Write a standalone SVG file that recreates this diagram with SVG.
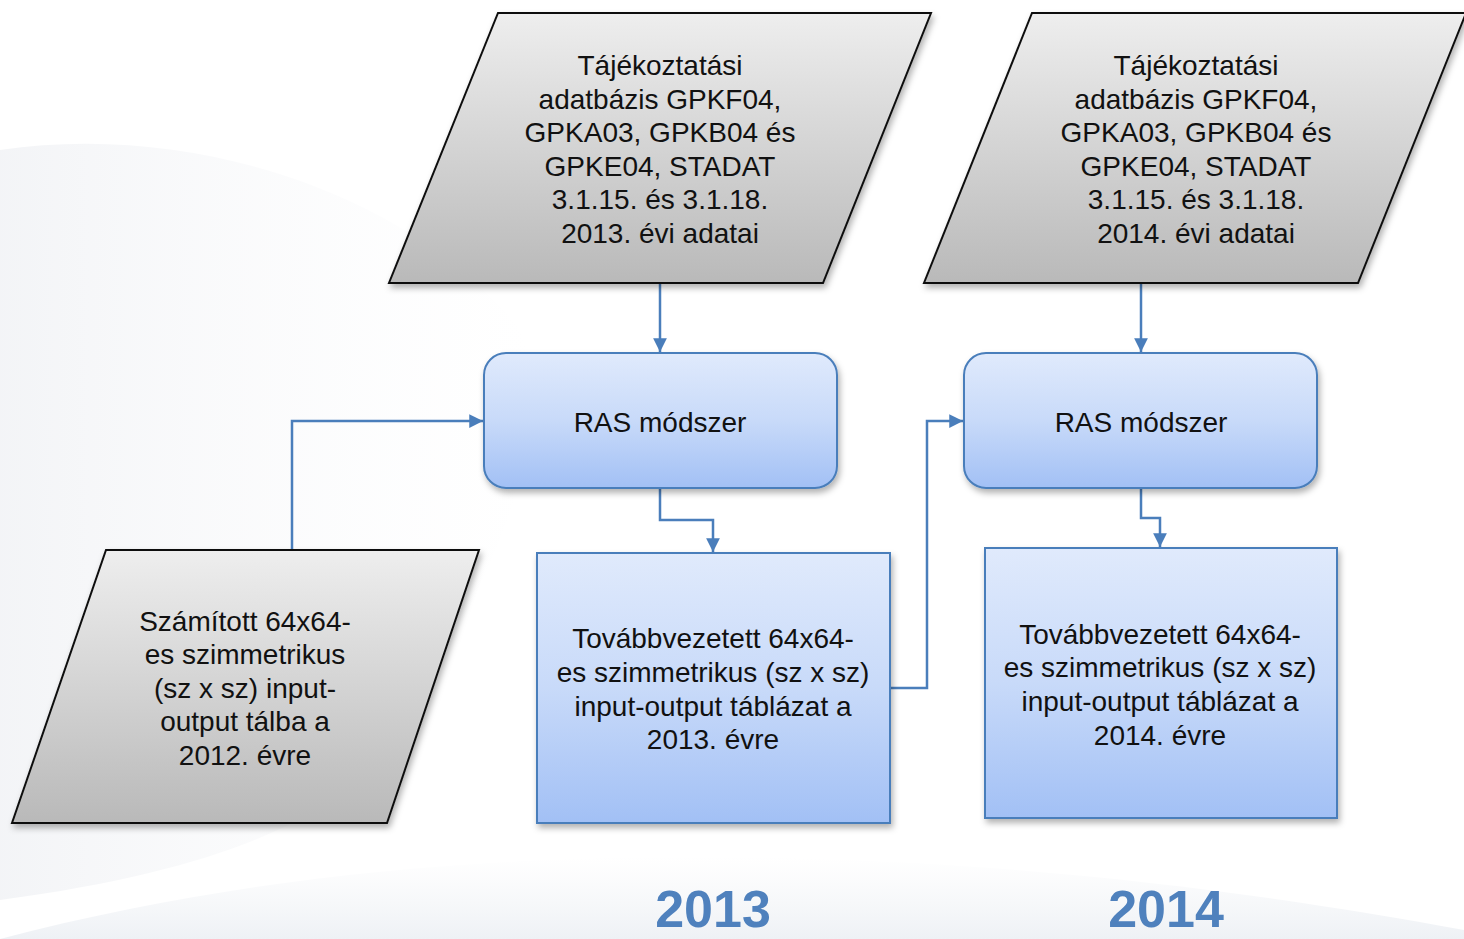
<svg xmlns="http://www.w3.org/2000/svg" width="1464" height="939" viewBox="0 0 1464 939">
<defs>
<linearGradient id="gray" x1="0" y1="0" x2="0" y2="1"><stop offset="0" stop-color="#eeeeee"/><stop offset="1" stop-color="#b9b9b9"/></linearGradient>
<linearGradient id="blue" x1="0" y1="0" x2="0" y2="1"><stop offset="0" stop-color="#e0eafc"/><stop offset="0.5" stop-color="#c8daf9"/><stop offset="1" stop-color="#a2c0f5"/></linearGradient>
<linearGradient id="bg1" x1="0" y1="0" x2="1" y2="0"><stop offset="0" stop-color="#eceef2" stop-opacity="0.9"/><stop offset="1" stop-color="#f7f8fa" stop-opacity="0"/></linearGradient>
<linearGradient id="bg2" x1="0" y1="0" x2="0" y2="1"><stop offset="0" stop-color="#f2f4f7" stop-opacity="0"/><stop offset="1" stop-color="#eef1f5" stop-opacity="1"/></linearGradient>
<filter id="sh" x="-10%" y="-10%" width="120%" height="125%"><feDropShadow dx="2" dy="4" stdDeviation="3" flood-color="#000" flood-opacity="0.3"/></filter>
<marker id="arr" viewBox="0 0 10 10" refX="10" refY="5" markerWidth="5.5" markerHeight="5.5" orient="auto" markerUnits="strokeWidth"><path d="M0,0 L10,5 L0,10 Z" fill="#4a7ebb"/></marker>
<style>
.t{font-family:"Liberation Sans",Arial,sans-serif;font-size:28px;fill:#111;text-anchor:middle}
.par{fill:url(#gray);stroke:#111;stroke-width:2;filter:url(#sh)}
.bx{fill:url(#blue);stroke:#4a7ebb;stroke-width:2;filter:url(#sh)}
.c{fill:none;stroke:#4a7ebb;stroke-width:2.5;marker-end:url(#arr)}
.yr{font-family:"Liberation Sans",Arial,sans-serif;font-weight:bold;font-size:52px;fill:#4f81bd;text-anchor:middle}
</style>
</defs>
<rect width="1464" height="939" fill="#ffffff"/>
<g id="background">
<path d="M0,150 C200,120 420,200 520,330 C560,420 500,560 420,700 C380,780 300,860 0,900 Z" fill="url(#bg1)" opacity="0.7"/>
<path d="M0,939 C300,860 600,850 850,860 C1100,870 1300,900 1464,930 L1464,939 Z" fill="url(#bg2)"/>
</g>
<g id="connectors">
<path class="c" d="M660,284 V352"/>
<path class="c" d="M1141,284 V352"/>
<path class="c" d="M292,550 V421 H483"/>
<path class="c" d="M660,489 V520 H713 V552"/>
<path class="c" d="M1141,489 V518 H1160 V547"/>
<path class="c" d="M891,688 H927 V421 H963"/>
</g>
<g id="src2013">
<path class="par" d="M498,13 H931 L823,283 H389 Z"/>
<text class="t" x="660" y="75">Tájékoztatási</text>
<text class="t" x="660" y="109">adatbázis GPKF04,</text>
<text class="t" x="660" y="142">GPKA03, GPKB04 és</text>
<text class="t" x="660" y="176">GPKE04, STADAT</text>
<text class="t" x="660" y="209">3.1.15. és 3.1.18.</text>
<text class="t" x="660" y="243">2013. évi adatai</text>
</g>
<g id="src2014">
<path class="par" d="M1032,13 H1466 L1358,283 H924 Z"/>
<text class="t" x="1196" y="75">Tájékoztatási</text>
<text class="t" x="1196" y="109">adatbázis GPKF04,</text>
<text class="t" x="1196" y="142">GPKA03, GPKB04 és</text>
<text class="t" x="1196" y="176">GPKE04, STADAT</text>
<text class="t" x="1196" y="209">3.1.15. és 3.1.18.</text>
<text class="t" x="1196" y="243">2014. évi adatai</text>
</g>
<g id="ras1">
<rect class="bx" x="484" y="353" width="353" height="135" rx="22"/>
<text class="t" x="660" y="432">RAS módszer</text>
</g>
<g id="ras2">
<rect class="bx" x="964" y="353" width="353" height="135" rx="22"/>
<text class="t" x="1141" y="432">RAS módszer</text>
</g>
<g id="input2012">
<path class="par" d="M106,550 H479 L387,823 H12 Z"/>
<text class="t" x="245" y="631">Számított 64x64-</text>
<text class="t" x="245" y="664">es szimmetrikus</text>
<text class="t" x="245" y="698">(sz x sz) input-</text>
<text class="t" x="245" y="731">output tálba a</text>
<text class="t" x="245" y="765">2012. évre</text>
</g>
<g id="table2013">
<rect class="bx" x="537" y="553" width="353" height="270"/>
<text class="t" x="713" y="648">Továbbvezetett 64x64-</text>
<text class="t" x="713" y="682">es szimmetrikus (sz x sz)</text>
<text class="t" x="713" y="716">input-output táblázat a</text>
<text class="t" x="713" y="749">2013. évre</text>
</g>
<g id="table2014">
<rect class="bx" x="985" y="548" width="352" height="270"/>
<text class="t" x="1160" y="644">Továbbvezetett 64x64-</text>
<text class="t" x="1160" y="677">es szimmetrikus (sz x sz)</text>
<text class="t" x="1160" y="711">input-output táblázat a</text>
<text class="t" x="1160" y="745">2014. évre</text>
</g>
<g id="years">
<text class="yr" x="713" y="927">2013</text>
<text class="yr" x="1166" y="927">2014</text>
</g>
</svg>
